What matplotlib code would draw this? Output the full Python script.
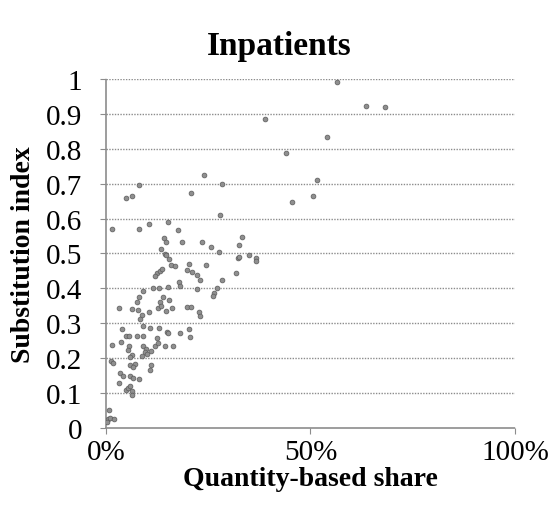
import numpy as np
import matplotlib.pyplot as plt
from matplotlib.ticker import FixedLocator

plt.rcParams['font.family'] = ['Liberation Serif', 'DejaVu Serif']

# quantity-based share (fraction) and substitution index
share = [0.566, 0.636, 0.682, 0.389, 0.440, 0.541, 0.454, 0.517, 0.505,
         0.240, 0.283, 0.081, 0.050, 0.064, 0.207, 0.278, 0.015, 0.082,
         0.106, 0.152, 0.177, 0.142, 0.147, 0.185, 0.236, 0.256, 0.276,
         0.333, 0.326, 0.134, 0.144, 0.350, 0.366, 0.324,
         0.147, 0.155, 0.159, 0.170, 0.202, 0.245, 0.325, 0.368,
         0.126, 0.121, 0.132, 0.138, 0.199, 0.211, 0.222, 0.230, 0.283, 0.318,
         0.178, 0.182, 0.223, 0.152, 0.130, 0.116, 0.091, 0.272, 0.265, 0.262,
         0.082, 0.075, 0.132, 0.139, 0.154, 0.128, 0.134, 0.147, 0.162,
         0.033, 0.064, 0.079, 0.087, 0.083, 0.091, 0.106, 0.108, 0.130,
         0.199, 0.209, 0.228, 0.230, 0.039, 0.050, 0.056, 0.075, 0.091,
         0.150, 0.181, 0.204, 0.205, 0.151, 0.125,
         0.015, 0.037, 0.057, 0.054, 0.091, 0.098, 0.095, 0.101, 0.087,
         0.111, 0.120, 0.128, 0.144, 0.165, 0.013, 0.016, 0.064, 0.060,
         0.059, 0.071, 0.067, 0.111, 0.108, 0.034, 0.041, 0.059, 0.067,
         0.081, 0.033, 0.049, 0.053, 0.059, 0.064, 0.063,
         0.007, 0.004, 0.011, 0.020, 0.003]
subst = [0.993, 0.922, 0.919, 0.885, 0.789, 0.835, 0.648, 0.712, 0.665,
         0.726, 0.698, 0.696, 0.658, 0.665, 0.672, 0.611, 0.569, 0.571,
         0.585, 0.591, 0.567, 0.544, 0.533, 0.534, 0.534, 0.520, 0.505,
         0.547, 0.525, 0.512, 0.499, 0.496, 0.486, 0.486,
         0.496, 0.484, 0.467, 0.463, 0.471, 0.467, 0.489, 0.478,
         0.443, 0.436, 0.451, 0.456, 0.452, 0.448, 0.438, 0.424, 0.424, 0.443,
         0.419, 0.408, 0.398, 0.405, 0.400, 0.400, 0.392, 0.400, 0.386, 0.379,
         0.374, 0.360, 0.360, 0.374, 0.368, 0.343, 0.350, 0.335, 0.343,
         0.345, 0.340, 0.338, 0.325, 0.312, 0.293, 0.331, 0.287, 0.287,
         0.346, 0.346, 0.333, 0.320, 0.284, 0.264, 0.263, 0.263, 0.263,
         0.276, 0.271, 0.284, 0.260, 0.271, 0.257,
         0.238, 0.247, 0.234, 0.224, 0.236, 0.226, 0.217, 0.212, 0.207,
         0.221, 0.236, 0.244, 0.236, 0.234, 0.193, 0.186, 0.209, 0.203,
         0.179, 0.183, 0.174, 0.179, 0.167, 0.158, 0.150, 0.148, 0.142,
         0.140, 0.129, 0.110, 0.115, 0.121, 0.107, 0.095,
         0.052, 0.025, 0.028, 0.026, 0.018]

x_ticks = [0, 0.5, 1.0]
x_labels = ['0%', '50%', '100%']
y_ticks = [0, 0.1, 0.2, 0.3, 0.4, 0.5, 0.6, 0.7, 0.8, 0.9, 1.0]
y_labels = ['0', '0.1', '0.2', '0.3', '0.4', '0.5', '0.6', '0.7', '0.8', '0.9', '1']

fig = plt.figure(figsize=(5.49, 5.10), dpi=100)
ax = fig.add_axes([0.193, 0.159, 0.745, 0.684])

grid_col = '#8c8c8c'
ax.scatter(share, subst, s=12, marker='o', color='#8f8f8f',
           edgecolors='#5a5a5a', linewidths=0.5, zorder=3)

ax.set_xlim(0, 1)
ax.set_ylim(0, 1)
ax.xaxis.set_major_locator(FixedLocator(x_ticks))
ax.set_xticklabels(x_labels)
ax.yaxis.set_major_locator(FixedLocator(y_ticks))
ax.set_yticklabels(y_labels)

for y in y_ticks[1:]:
    ax.axhline(y, color=grid_col, lw=1.0, ls=(0, (1, 1)), zorder=1)

for side in ['top', 'right']:
    ax.spines[side].set_visible(False)
for side in ['left', 'bottom']:
    ax.spines[side].set_color(grid_col)
    ax.spines[side].set_linewidth(1.2)
    ax.spines[side].set_linestyle((0, (1, 1)))

ax.tick_params(axis='x', direction='out', length=4, color=grid_col,
               labelsize=21, pad=4)
ax.tick_params(axis='y', direction='out', length=4, color=grid_col,
               labelsize=21, pad=13)

# title is centred on the whole chart area, not on the plot area
fig.text(0.509, 0.892, 'Inpatients', fontsize=24, fontweight='bold',
         ha='center', va='baseline')
ax.set_xlabel('Quantity-based share', fontsize=20, fontweight='bold', labelpad=1)
ax.set_ylabel('Substitution index', fontsize=20, fontweight='bold', labelpad=7)

fig.savefig('out.png', dpi=100)
